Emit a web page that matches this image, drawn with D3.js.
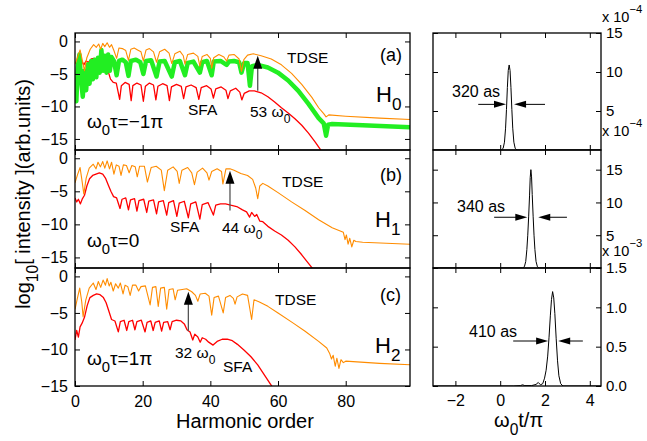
<!DOCTYPE html>
<html><head><meta charset="utf-8">
<script src="https://cdn.jsdelivr.net/npm/d3@7"></script>
<style>
body{margin:0;background:#fff}
svg text{font-family:"Liberation Sans",Arial,Helvetica,sans-serif;fill:#000}
</style>
</head><body>
<svg id="chart" width="647" height="441"></svg>
<script>
// ---------------- DATA ----------------
const harmonicTicks = [0, 20, 40, 60, 80];
const logTicks = [0, -5, -10, -15];
const timeTicks = [-2, 0, 2, 4];
const pulseTicksD = [5, 10, 15];
const pulseTicksE = [5, 10, 15];
const pulseTicksF = [0, 0.5, 1, 1.5];

// panel (a)  [harmonic order, log10 intensity]
const tdseA = [[0,-3.5],[0.7,-2.5],[1.5,-1.3],[2.2,-3.0],[2.8,-4.5],[3.5,-2.5],[4.5,-1.2],[5.5,-0.5],[6.3,-0.9],[7,-0.4],[7.6,-1.2],[8.2,-0.3],[8.8,-0.8],[9.5,-0.2],[10.2,-0.9],[10.8,-0.5],[11.5,-1.4],[12.3,-2.6],[13,-1.0],[14,-1.1],[15,-1.4],[15.8,-2.9],[16.5,-1.2],[17.5,-1.0],[18.5,-1.3],[19.5,-1.6],[20.2,-3.0],[21,-1.3],[22,-1.1],[23.2,-1.6],[24.1,-3.2],[25,-1.6],[26.5,-1.2],[27.8,-1.8],[28.6,-3.4],[29.5,-1.9],[31,-1.5],[32,-2.2],[32.5,-3.5],[33.3,-2.0],[35,-1.8],[36.3,-2.3],[36.9,-3.8],[37.6,-2.3],[39,-2.0],[40,-2.6],[40.4,-4.1],[41,-2.5],[42.5,-2.0],[44,-2.4],[44.8,-3.0],[45.5,-2.1],[47,-2.0],[48.5,-2.7],[49.2,-4.6],[49.9,-2.8],[51,-2.1],[52.7,-1.9],[55,-2.2],[58,-2.7],[61,-3.6],[64,-4.9],[67,-6.6],[70,-8.6],[72,-10.2],[73.5,-11.1],[74.2,-11.6],[75,-11.3],[80,-11.5],[90,-11.8],[99,-12.0]];
const tdseGreenA = [[0,-7],[0.4,-9.2],[0.8,-4],[1.3,-2.0],[1.8,-6],[2.3,-8.5],[2.8,-4.5],[3.3,-7.5],[3.8,-3.5],[4.3,-6.5],[4.8,-3],[5.3,-5.8],[5.8,-2.8],[6.3,-5.5],[6.8,-2.5],[7.3,-4.8],[7.8,-1.3],[8.3,-4.5],[8.8,-2.2],[9.3,-4.8],[9.8,-2.0],[10.3,-4.5],[10.8,-2.4],[11.5,-3.0],[12.3,-5.2],[13,-3.0],[14,-2.8],[15,-3.2],[15.8,-5.3],[16.5,-3.0],[18,-2.8],[19.3,-3.2],[20.2,-5.0],[21,-3.0],[22.5,-2.9],[24.1,-5.4],[25,-3.1],[26.5,-3.0],[28.6,-5.4],[29.5,-3.2],[31,-3.0],[32.5,-5.2],[33.3,-3.3],[35,-3.1],[36.9,-4.8],[37.6,-3.2],[39,-3.0],[40.4,-5.2],[41,-3.1],[43,-3.0],[44.8,-3.6],[45.5,-3.1],[47,-3.0],[48.5,-3.2],[49.2,-4.8],[50,-3.3],[51,-3.3],[51.7,-6.8],[52.3,-3.8],[54,-3.6],[57,-4.0],[60,-4.8],[63,-6.0],[66,-7.6],[69,-9.6],[72,-11.8],[73.5,-12.6],[74.2,-14.5],[74.8,-12.8],[76,-12.7],[85,-12.9],[99,-13.2]];
const sfaA = [[0,-6.3],[0.5,-6.9],[1,-6.4],[1.5,-5.0],[2,-3.0],[2.6,-3.6],[3.3,-3.0],[4,-3.2],[4.8,-2.7],[5.6,-2.6],[6.5,-2.9],[7.3,-2.6],[8.2,-2.8],[9,-3.4],[9.8,-4.6],[10.5,-5.8],[11.3,-6.3],[12.2,-6.4],[13.2,-8.9],[13.7,-6.8],[14.8,-6.3],[16.0,-6.6],[16.6,-9.1],[17.1,-6.8],[18.3,-6.4],[19.5,-6.7],[20.2,-9.2],[20.8,-6.9],[22,-6.4],[23.2,-6.7],[23.9,-9.0],[24.5,-6.9],[25.9,-6.5],[27.2,-6.8],[27.9,-9.1],[28.5,-7.0],[30,-6.6],[31.4,-6.9],[32.1,-8.8],[32.8,-7.0],[34.3,-6.7],[35.8,-7.1],[36.6,-8.9],[37.3,-7.1],[38.9,-6.8],[40.2,-7.3],[40.9,-8.7],[41.6,-7.3],[43.2,-7.0],[44.6,-7.5],[45.2,-8.8],[45.9,-7.6],[47.5,-7.2],[48.7,-7.8],[49.3,-9.0],[50.0,-8.0],[51.5,-7.6],[53,-7.6],[55,-7.9],[57,-8.5],[59,-9.3],[61,-10.2],[63,-11.0],[65,-11.9],[67,-12.9],[69,-14.1],[71,-15.5],[72.5,-16.6],[73.5,-17.4]];

// panel (b)
const tdseB = [[0,-3.7],[0.8,-2.4],[1.5,-1.4],[2.1,-3.5],[2.6,-5.4],[3.3,-3.0],[4.2,-1.5],[5.4,-0.9],[6.2,-1.6],[6.8,-0.6],[7.5,-1.3],[8.2,-0.5],[8.8,-1.5],[9.5,-0.4],[10.2,-1.6],[10.8,-0.6],[11.5,-2.4],[12.2,-1.0],[13,-1.2],[13.6,-2.6],[14.3,-1.0],[15.2,-1.1],[16,-2.2],[16.8,-1.1],[17.8,-1.3],[18.4,-2.8],[19.1,-1.2],[20.5,-1.2],[21.4,-3.6],[22.5,-1.4],[24,-1.2],[25.5,-1.8],[26.4,-4.9],[27.4,-1.8],[29,-1.3],[30.2,-2.0],[30.8,-3.8],[31.6,-1.8],[33.3,-1.4],[34.5,-2.2],[35.3,-4.0],[36.1,-2.1],[37.7,-1.5],[39,-2.2],[39.6,-3.3],[40.4,-2.0],[42,-1.6],[43.3,-2.0],[43.7,-3.9],[44.6,-1.6],[45.8,-1.6],[47,-1.8],[49,-2.3],[51,-2.6],[52.5,-3.2],[53.4,-4.5],[54,-6.1],[54.6,-4.2],[55.5,-3.8],[57,-4.2],[60,-5.2],[64,-6.6],[68,-7.9],[72,-9.3],[76,-10.5],[79.3,-11.2],[79.8,-12.3],[80.2,-11.6],[80.7,-13.0],[81.2,-12.1],[81.8,-13.4],[82.4,-12.4],[83,-12.6],[85,-12.7],[99,-13.0]];
const sfaB = [[0,-6.0],[0.5,-6.6],[1,-6.2],[1.6,-6.9],[2.2,-6.1],[2.8,-5.6],[3.5,-4.2],[4.3,-3.1],[5.2,-2.6],[6.2,-2.4],[7.2,-2.2],[8.2,-2.4],[9,-3.0],[9.8,-4.0],[10.6,-5.0],[11.4,-5.8],[12.3,-6.0],[13.3,-7.6],[13.9,-6.2],[15,-6.0],[15.8,-7.8],[16.4,-6.3],[17.6,-6.1],[18.3,-8.0],[18.9,-6.4],[20.3,-6.2],[21.2,-8.2],[21.8,-6.5],[23.2,-6.3],[24.1,-8.4],[24.7,-6.6],[26.1,-6.4],[27.1,-8.6],[27.7,-6.7],[29.1,-6.4],[30.1,-8.8],[30.8,-6.8],[32.3,-6.5],[33.5,-9.0],[34.2,-6.9],[35.7,-6.6],[36.9,-9.2],[37.6,-7.0],[39.3,-6.7],[40.9,-8.6],[41.6,-7.1],[43,-6.9],[44.5,-6.9],[46,-7.1],[47.8,-7.3],[49.5,-7.8],[50.7,-8.1],[51.6,-8.9],[52.2,-8.2],[53.1,-8.8],[53.7,-8.5],[54.6,-9.5],[55.5,-9.6],[57,-10.3],[59,-11.0],[61,-11.6],[63,-12.4],[65,-13.4],[67,-14.6],[69,-15.9],[70.4,-16.8],[71.5,-17.6]];

// panel (c)
const tdseC = [[0,-4.5],[0.7,-3],[1.4,-1.6],[2.0,-3.5],[2.4,-5.5],[3.2,-3.2],[4.2,-1.6],[5.4,-0.9],[6.2,-1.8],[6.9,-0.7],[7.6,-1.5],[8.3,-0.5],[9.0,-1.2],[9.5,-0.3],[10.1,-1.3],[10.6,-0.8],[11.3,-2.0],[12,-1.0],[12.8,-1.6],[13.4,-0.9],[14.2,-2.4],[14.8,-1.2],[15.6,-1.4],[16.3,-2.6],[17,-1.2],[18,-1.2],[18.8,-2.0],[19.5,-1.4],[20.8,-1.3],[22.2,-3.9],[22.9,-1.5],[23.9,-1.4],[24.6,-4.1],[25.3,-1.6],[26.4,-1.5],[27.1,-4.5],[27.8,-1.8],[29,-1.7],[29.6,-3.2],[30.3,-1.9],[31.7,-1.8],[33,-1.7],[34.5,-2.1],[35.6,-2.6],[36.3,-3.4],[37,-2.4],[38.5,-2.3],[39.6,-2.7],[40.4,-5.3],[41.1,-2.9],[42.4,-2.7],[43.8,-5.0],[44.5,-2.9],[45.8,-2.6],[46.8,-3.0],[47.3,-3.8],[47.9,-2.8],[49.5,-2.4],[51,-2.6],[52.2,-5.9],[52.9,-3.2],[54.5,-3.5],[57,-4.1],[60,-5.0],[64.5,-6.4],[68,-7.5],[72,-8.9],[74.4,-9.8],[75.3,-10.6],[75.8,-11.3],[76.3,-10.8],[76.9,-12.3],[77.4,-11.2],[78.0,-12.6],[78.6,-11.4],[79.3,-11.8],[80,-11.6],[90,-11.9],[99,-12.1]];
const sfaC = [[0,-8.7],[0.5,-7.4],[1,-8.3],[1.5,-6.9],[2.1,-6.4],[2.8,-5.6],[3.6,-4.0],[4.4,-2.9],[5.4,-2.6],[6.4,-2.4],[7.4,-2.5],[8.4,-2.9],[9.2,-3.6],[9.9,-4.6],[10.8,-5.9],[11.8,-6.1],[12.8,-7.6],[13.4,-6.2],[14.5,-6.0],[15.3,-7.4],[15.9,-6.2],[17,-6.0],[17.7,-7.3],[18.3,-6.2],[19.6,-6.0],[20.7,-7.6],[21.3,-6.3],[22.4,-6.1],[23.1,-7.4],[23.7,-6.3],[24.9,-6.1],[25.6,-7.5],[26.2,-6.3],[27.4,-6.2],[28.1,-7.3],[28.7,-6.2],[30,-6.0],[31.3,-6.1],[32.3,-6.5],[33.1,-7.3],[34,-7.6],[34.8,-8.7],[35.4,-7.9],[36.3,-8.3],[37,-9.0],[37.6,-8.4],[38.6,-8.6],[39.5,-9.0],[40.8,-9.4],[42,-8.9],[43.5,-8.6],[45,-8.6],[46.5,-8.8],[48,-9.3],[50,-10.1],[52,-11.0],[54,-12.1],[56,-13.5],[58,-14.9],[58.6,-15.4]];

// cutoff arrows: [harmonic, log10 base, log10 tip]
const cutoffArrows = [[54, -7.6, -2.2], [45.8, -7.9, -1.9], [33.5, -7.5, -2.1]];

// attosecond pulses: [ω0 t/π, intensity]
const pulseD = [[-3,0],[0.05,0],[0.13,0.2],[0.19,1.0],[0.24,2.8],[0.28,5.2],[0.32,8.0],[0.36,10.2],[0.40,10.9],[0.44,10.2],[0.48,8.0],[0.52,5.2],[0.56,2.8],[0.61,1.0],[0.67,0.2],[0.75,0],[4.5,0]];
const pulseE = [[-3,0],[1.0,0],[1.08,0.2],[1.14,1.0],[1.19,2.8],[1.23,5.0],[1.27,7.8],[1.31,11.0],[1.34,13.8],[1.37,15.0],[1.40,13.9],[1.43,11.2],[1.47,7.9],[1.51,5.0],[1.55,2.8],[1.60,1.0],[1.66,0.2],[1.74,0],[4.5,0]];
const pulseF = [[-3,0],[0.6,0],[0.9,0.005],[1.0,0.015],[1.1,0.005],[1.4,0.005],[1.6,0.02],[1.7,0.045],[1.8,0.015],[1.9,0.03],[1.98,0.10],[2.05,0.2],[2.12,0.38],[2.18,0.62],[2.24,0.9],[2.29,1.1],[2.34,1.2],[2.39,1.12],[2.44,0.92],[2.50,0.6],[2.56,0.32],[2.62,0.13],[2.70,0.03],[2.8,0],[4.5,0]];
// FWHM arrows: [y level, left tail, left tip, right tail, right tip]
const fwhmArrows = [[5.85,-0.98,0.26,2.0,0.62],[7.74,-0.27,1.21,2.98,1.70],[0.572,0.58,2.14,3.69,2.59]];

// ---------------- DRAW ----------------
const svg = d3.select('#chart');
const LX = [75, 410], RX = [433, 601];
const rows = [[33,150],[150,268],[268,386]];
const leftDomains = [[-16.7,1.3],[-16.6,1.25],[-15,1.15]];
const rightDomains = [[0,15],[0,18],[0,1.5]];

const defs = svg.append('defs');
function clip(id, x0, x1, y0, y1){
  defs.append('clipPath').attr('id', id).append('rect')
    .attr('x', x0).attr('y', y0).attr('width', x1-x0).attr('height', y1-y0);
}
function styleAxis(g, showLabels, fs){
  g.attr('font-size', null).attr('font-family', null);
  g.select('.domain').remove();
  g.selectAll('.tick line').attr('stroke', '#000').attr('stroke-width', 1);
  g.selectAll('.tick text').attr('font-size', fs || 16).attr('fill', '#000');
  if (!showLabels) g.selectAll('.tick text').remove();
}
function frame(x0,x1,y0,y1){
  svg.append('rect').attr('x',x0).attr('y',y0).attr('width',x1-x0).attr('height',y1-y0)
    .attr('fill','none').attr('stroke','#000').attr('stroke-width',1.3);
}
function addText(x, y, parts, size){
  const t = svg.append('text').attr('x', x).attr('y', y).attr('font-size', size);
  let shift = 0;
  parts.forEach(p => {
    const target = p.sub ? size*0.38 : (p.sup ? -size*0.6 : 0);
    const s = t.append('tspan').text(p.t).attr('dy', target - shift);
    if (p.sub || p.sup) s.attr('font-size', size*0.78);
    shift = target;
  });
  return t;
}

const leftSeries = [
  [{d: sfaA, c:'#ff0000', w:1.3}, {d: tdseGreenA, c:'#22ee22', w:4.5}, {d: tdseA, c:'#ff8c00', w:1.1}],
  [{d: sfaB, c:'#ff0000', w:1.3}, {d: tdseB, c:'#ff8c00', w:1.1}],
  [{d: sfaC, c:'#ff0000', w:1.3}, {d: tdseC, c:'#ff8c00', w:1.1}]
];
const xH = d3.scaleLinear().domain([0, 99]).range(LX);
rows.forEach((r, i) => {
  const y = d3.scaleLinear().domain(leftDomains[i]).range([r[1], r[0]]);
  const id = 'cl' + i;
  clip(id, LX[0], LX[1], r[0], r[1]);
  const line = d3.line().x(d => xH(d[0])).y(d => y(d[1]));
  const g = svg.append('g').attr('clip-path', `url(#${id})`);
  leftSeries[i].forEach(s => g.append('path').attr('d', line(s.d)).attr('fill','none')
    .attr('stroke', s.c).attr('stroke-width', s.w).attr('stroke-linejoin','round'));
  const a = cutoffArrows[i];
  const ax = xH(a[0]), yb = y(a[1]), yt = y(a[2]);
  svg.append('line').attr('x1', ax).attr('x2', ax).attr('y1', yb).attr('y2', yt + 10)
    .attr('stroke', '#555').attr('stroke-width', 1.3);
  svg.append('path').attr('d', `M${ax},${yt} L${ax-4.5},${yt+13} L${ax+4.5},${yt+13} Z`).attr('fill', '#000');
  svg.append('g').attr('transform', `translate(${LX[0]},0)`)
    .call(d3.axisLeft(y).tickValues(logTicks).tickSize(-5).tickSizeOuter(0).tickPadding(7))
    .call(g => styleAxis(g, true));
  svg.append('g').attr('transform', `translate(${LX[1]},0)`)
    .call(d3.axisRight(y).tickValues(logTicks).tickSize(-5).tickSizeOuter(0))
    .call(g => styleAxis(g, false));
  svg.append('g').attr('transform', `translate(0,${r[0]})`)
    .call(d3.axisTop(xH).tickValues(harmonicTicks).tickSize(-5).tickSizeOuter(0))
    .call(g => styleAxis(g, false));
  svg.append('g').attr('transform', `translate(0,${r[1]})`)
    .call(d3.axisBottom(xH).tickValues(harmonicTicks).tickSize(-5).tickSizeOuter(0).tickPadding(10))
    .call(g => styleAxis(g, i === 2));
  frame(LX[0], LX[1], r[0], r[1]);
});

const xT = d3.scaleLinear().domain([-3, 4.5]).range(RX);
const pulses = [pulseD, pulseE, pulseF];
const pTicks = [pulseTicksD, pulseTicksE, pulseTicksF];
rows.forEach((r, i) => {
  const y = d3.scaleLinear().domain(rightDomains[i]).range([r[1], r[0]]);
  const id = 'cr' + i;
  clip(id, RX[0], RX[1], r[0], r[1]);
  const line = d3.line().x(d => xT(d[0])).y(d => y(d[1]));
  svg.append('path').attr('clip-path', `url(#${id})`).attr('d', line(pulses[i]))
    .attr('fill','none').attr('stroke','#000').attr('stroke-width',1);
  const f = fwhmArrows[i];
  const ay = y(f[0]);
  [[f[1], f[2]], [f[3], f[4]]].forEach(([tail, tip]) => {
    const x1 = xT(tail), x2 = xT(tip), dir = Math.sign(x2 - x1);
    svg.append('line').attr('x1', x1).attr('x2', x2 - dir*10).attr('y1', ay).attr('y2', ay)
      .attr('stroke', '#000').attr('stroke-width', 1);
    svg.append('path').attr('d', `M${x2},${ay} L${x2-dir*12},${ay-3.5} L${x2-dir*12},${ay+3.5} Z`).attr('fill','#000');
  });
  svg.append('g').attr('transform', `translate(${RX[1]},0)`)
    .call(d3.axisRight(y).tickValues(pTicks[i]).tickSize(-5).tickSizeOuter(0).tickPadding(5))
    .call(g => styleAxis(g, true, 15));
  svg.append('g').attr('transform', `translate(${RX[0]},0)`)
    .call(d3.axisLeft(y).tickValues(pTicks[i]).tickSize(-5).tickSizeOuter(0))
    .call(g => styleAxis(g, false));
  svg.append('g').attr('transform', `translate(0,${r[0]})`)
    .call(d3.axisTop(xT).tickValues(timeTicks).tickSize(-5).tickSizeOuter(0))
    .call(g => styleAxis(g, false));
  svg.append('g').attr('transform', `translate(0,${r[1]})`)
    .call(d3.axisBottom(xT).tickValues(timeTicks).tickSize(-5).tickSizeOuter(0).tickPadding(9))
    .call(g => styleAxis(g, i === 2));
  frame(RX[0], RX[1], r[0], r[1]);
});

// ---------------- TEXT ----------------
addText(380, 61, [{t:'(a)'}], 18);
addText(380, 181, [{t:'(b)'}], 18);
addText(380, 301, [{t:'(c)'}], 18);
addText(376, 102, [{t:'H'},{t:'0',sub:true}], 22);
addText(375, 227, [{t:'H'},{t:'1',sub:true}], 22);
addText(375, 353, [{t:'H'},{t:'2',sub:true}], 22);
addText(287, 63, [{t:'TDSE'}], 15.5);
addText(282, 187, [{t:'TDSE'}], 15.5);
addText(275, 305, [{t:'TDSE'}], 15.5);
addText(188, 115, [{t:'SFA'}], 15.5);
addText(170, 232, [{t:'SFA'}], 15.5);
addText(223, 372, [{t:'SFA'}], 15.5);
addText(250, 117, [{t:'53 ω'},{t:'0',sub:true}], 15.5);
addText(222, 233, [{t:'44 ω'},{t:'0',sub:true}], 15.5);
addText(175, 358, [{t:'32 ω'},{t:'0',sub:true}], 15.5);
addText(87, 128, [{t:'ω'},{t:'0',sub:true},{t:'τ=−1π'}], 19);
addText(87, 247, [{t:'ω'},{t:'0',sub:true},{t:'τ=0'}], 19);
addText(87, 365, [{t:'ω'},{t:'0',sub:true},{t:'τ=1π'}], 19);
addText(452, 97, [{t:'320 as'}], 16);
addText(457, 212, [{t:'340 as'}], 16);
addText(469, 337, [{t:'410 as'}], 16);
addText(602, 22, [{t:'x 10'},{t:'−4',sup:true}], 14.5);
addText(602, 136, [{t:'x 10'},{t:'−4',sup:true}], 14.5);
addText(602, 256, [{t:'x 10'},{t:'−3',sup:true}], 14.5);
addText(245, 428, [{t:'Harmonic order'}], 20).attr('text-anchor','middle');
addText(494, 427, [{t:'ω'},{t:'0',sub:true},{t:'t/π'}], 20);
addText(0, 0, [{t:'log'},{t:'10',sub:true},{t:'[ intensity ](arb.units)'}], 20)
  .attr('text-anchor','middle').attr('transform','translate(30,194) rotate(-90)');
</script>
</body></html>
